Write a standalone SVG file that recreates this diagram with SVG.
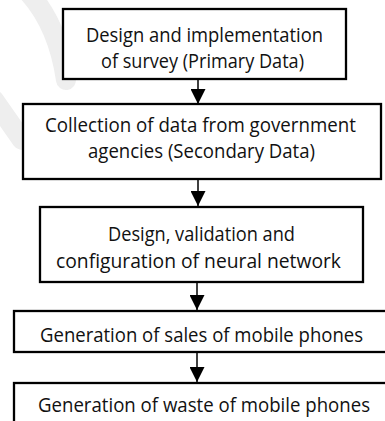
<svg xmlns="http://www.w3.org/2000/svg" width="385" height="421" viewBox="0 0 385 421">
<defs>
<marker id="ah" markerUnits="userSpaceOnUse" markerWidth="16" markerHeight="15" refX="15" refY="7.5" orient="auto">
<path d="M0,0 L15,7.5 L0,15 Z" fill="#000"/>
</marker>
<style>
.box{fill:#fff;stroke:#000;stroke-width:2.3}
.t{font-family:"Open Sans","Noto Sans",sans-serif;font-size:20px;fill:#111;text-anchor:middle}
.c{stroke:#000;stroke-width:1.5;fill:none}
.wm{stroke:#eeeeee;stroke-width:20;fill:none;stroke-linecap:round}
</style>
</defs>
<rect width="385" height="421" fill="#fff"/>
<g id="watermark">
<path class="wm" d="M28,-8 Q58,25 66,80"/>
<path class="wm" d="M-6,100 L22,140"/>
</g>
<g id="n1">
<rect class="box" x="63" y="9" width="283" height="70"/>
<text class="t" x="204.5" y="42" textLength="237" lengthAdjust="spacingAndGlyphs">Design and implementation</text>
<text class="t" x="202.5" y="68" textLength="203" lengthAdjust="spacingAndGlyphs">of survey (Primary Data)</text>
</g>
<g id="n2">
<rect class="box" x="23" y="104" width="358" height="75"/>
<text class="t" x="200.5" y="132" textLength="311" lengthAdjust="spacingAndGlyphs">Collection of data from government</text>
<text class="t" x="201.5" y="158" textLength="227" lengthAdjust="spacingAndGlyphs">agencies (Secondary Data)</text>
</g>
<g id="n3">
<rect class="box" x="40" y="207" width="323" height="75"/>
<text class="t" x="201.5" y="241" textLength="187" lengthAdjust="spacingAndGlyphs">Design, validation and</text>
<text class="t" x="198.5" y="268" textLength="285" lengthAdjust="spacingAndGlyphs">configuration of neural network</text>
</g>
<g id="n4">
<rect class="box" x="14" y="311" width="380" height="41"/>
<text class="t" x="201.5" y="342" textLength="323" lengthAdjust="spacingAndGlyphs">Generation of sales of mobile phones</text>
</g>
<g id="n5">
<rect class="box" x="14" y="383" width="380" height="50"/>
<text class="t" x="204" y="412" textLength="332" lengthAdjust="spacingAndGlyphs">Generation of waste of mobile phones</text>
</g>
<g id="connectors">
<line class="c" x1="198" y1="80" x2="198" y2="104" marker-end="url(#ah)"/>
<line class="c" x1="198" y1="180" x2="198" y2="206" marker-end="url(#ah)"/>
<line class="c" x1="197" y1="283" x2="197" y2="310" marker-end="url(#ah)"/>
<line class="c" x1="197" y1="353" x2="197" y2="382" marker-end="url(#ah)"/>
</g>
</svg>
